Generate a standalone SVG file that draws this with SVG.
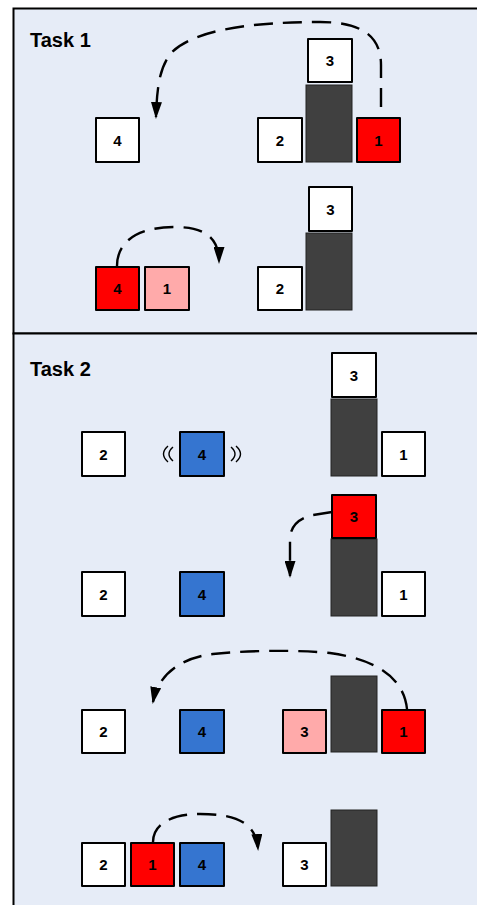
<svg xmlns="http://www.w3.org/2000/svg" width="477" height="905" viewBox="0 0 477 905">
<defs>
<style>
.panel{fill:#e6ecf7;stroke:#000;stroke-width:2}
.b{stroke:#000;stroke-width:2;stroke-linejoin:round}
.w{fill:#fff}
.r{fill:#ff0000}
.p{fill:#ffaaaa}
.u{fill:#3575d0}
.col{fill:#404040;stroke:#222;stroke-width:1}
.t{font-family:"Liberation Sans",Arial,sans-serif;font-weight:bold;font-size:15px;text-anchor:middle;fill:#000}
.title{font-family:"Liberation Sans",Arial,sans-serif;font-weight:bold;font-size:20px;fill:#000}
.c{fill:none;stroke:#000;stroke-width:2.4;stroke-dasharray:19 10}
.vib{fill:none;stroke:#000;stroke-width:1.4}
</style>
<marker id="ah" markerUnits="userSpaceOnUse" markerWidth="17" markerHeight="11" refX="15" refY="5.5" orient="auto">
<path d="M0,0 L17,5.5 L0,11 z" fill="#000"/>
</marker>
</defs>

<rect id="panel1" class="panel" x="13.5" y="8.5" width="480" height="325"/>
<rect id="panel2" class="panel" x="13.5" y="333.5" width="480" height="590"/>
<text class="title" x="30" y="47">Task 1</text>
<text class="title" x="30" y="376">Task 2</text>

<!-- Task 1 row 1 -->
<g id="t1a-4"><rect class="b w" x="96" y="118" width="43" height="44"/><text class="t" x="117.5" y="145.5">4</text></g>
<g id="t1a-2"><rect class="b w" x="258" y="118" width="44" height="44"/><text class="t" x="280" y="145.5">2</text></g>
<g id="t1a-col"><rect class="col" x="306" y="85" width="46" height="77"/></g>
<g id="t1a-3"><rect class="b w" x="308" y="39" width="44" height="43"/><text class="t" x="330" y="66">3</text></g>
<g id="t1a-1"><rect class="b r" x="357" y="118" width="43" height="44"/><text class="t" x="378.5" y="145.5">1</text></g>

<!-- Task 1 row 2 -->
<g id="t1b-4"><rect class="b r" x="96" y="267" width="43" height="43"/><text class="t" x="117.5" y="294">4</text></g>
<g id="t1b-1"><rect class="b p" x="145" y="267" width="44" height="43"/><text class="t" x="167" y="294">1</text></g>
<g id="t1b-2"><rect class="b w" x="258" y="267" width="44" height="43"/><text class="t" x="280" y="294">2</text></g>
<g id="t1b-col"><rect class="col" x="306" y="233" width="46" height="77"/></g>
<g id="t1b-3"><rect class="b w" x="309" y="187" width="43" height="44"/><text class="t" x="330.5" y="214.5">3</text></g>

<!-- Task 2 row 1 -->
<g id="t2a-2"><rect class="b w" x="82" y="432" width="43" height="44"/><text class="t" x="103.5" y="459.5">2</text></g>
<g id="t2a-4"><rect class="b u" x="180" y="432" width="44" height="44"/><text class="t" x="202" y="459.5">4</text>
<path class="vib" d="M168 446 Q159 454 168 462 M173 447 Q165 454 173 461 M231 447 Q239 454 231 461 M236 446 Q245 454 236 462"/></g>
<g id="t2a-col"><rect class="col" x="331" y="399" width="46" height="77"/></g>
<g id="t2a-3"><rect class="b w" x="332" y="353" width="44" height="44"/><text class="t" x="354" y="380.5">3</text></g>
<g id="t2a-1"><rect class="b w" x="382" y="432" width="43" height="44"/><text class="t" x="403.5" y="459.5">1</text></g>

<!-- Task 2 row 2 -->
<g id="t2b-2"><rect class="b w" x="82" y="572" width="43" height="44"/><text class="t" x="103.5" y="599.5">2</text></g>
<g id="t2b-4"><rect class="b u" x="180" y="572" width="44" height="44"/><text class="t" x="202" y="599.5">4</text></g>
<g id="t2b-col"><rect class="col" x="331" y="539" width="46" height="77"/></g>
<g id="t2b-3"><rect class="b r" x="332" y="495" width="44" height="43"/><text class="t" x="354" y="522">3</text></g>
<g id="t2b-1"><rect class="b w" x="382" y="572" width="43" height="44"/><text class="t" x="403.5" y="599.5">1</text></g>

<!-- Task 2 row 3 -->
<g id="t2c-2"><rect class="b w" x="82" y="710" width="43" height="43"/><text class="t" x="103.5" y="737">2</text></g>
<g id="t2c-4"><rect class="b u" x="180" y="710" width="44" height="43"/><text class="t" x="202" y="737">4</text></g>
<g id="t2c-3"><rect class="b p" x="283" y="710" width="43" height="43"/><text class="t" x="304.5" y="737">3</text></g>
<g id="t2c-col"><rect class="col" x="331" y="676" width="46" height="76"/></g>
<g id="t2c-1"><rect class="b r" x="382" y="710" width="43" height="43"/><text class="t" x="403.5" y="737">1</text></g>

<!-- Task 2 row 4 -->
<g id="t2d-2"><rect class="b w" x="82" y="843" width="43" height="43"/><text class="t" x="103.5" y="870">2</text></g>
<g id="t2d-1"><rect class="b r" x="131" y="843" width="43" height="43"/><text class="t" x="152.5" y="870">1</text></g>
<g id="t2d-4"><rect class="b u" x="180" y="843" width="44" height="43"/><text class="t" x="202" y="870">4</text></g>
<g id="t2d-3"><rect class="b w" x="283" y="843" width="43" height="43"/><text class="t" x="304.5" y="870">3</text></g>
<g id="t2d-col"><rect class="col" x="331" y="810" width="46" height="76"/></g>

<g id="connectors">
<path class="c" marker-end="url(#ah)" d="M381 107 L381 65 C381 35 360 22 320 22 C250 22 195 30 172 52 C160 66 157 85 156 117"/>
<path class="c" marker-end="url(#ah)" d="M117 266 C117 240 140 227 175 227 C205 227 219 238 219 262"/>
<path class="c" marker-end="url(#ah)" d="M332 512 L313 515 C300 518 290 525 290 540 L290 576"/>
<path class="c" marker-end="url(#ah)" d="M407 709 C404 680 380 660 330 653 C300 650 250 650 213 654 C180 658 158 675 153 702"/>
<path class="c" marker-end="url(#ah)" d="M153 842 C153 825 170 814 200 814 C235 814 256 822 258 849"/>
</g>
</svg>
